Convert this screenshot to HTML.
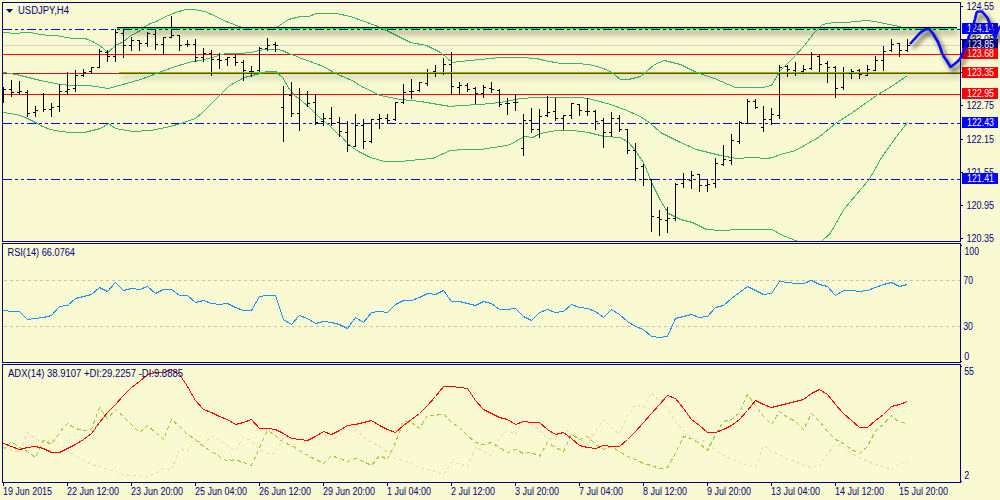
<!DOCTYPE html>
<html><head><meta charset="utf-8"><title>USDJPY,H4</title>
<style>html,body{margin:0;padding:0;background:#FAFAD2;}body{width:1000px;height:500px;overflow:hidden;}svg{display:block;}text{font-family:'Liberation Sans', sans-serif;}</style>
</head><body>
<svg width="1000" height="500" viewBox="0 0 1000 500">
<defs><filter id="sh" filterUnits="userSpaceOnUse" x="0" y="0" width="1000" height="500"><feGaussianBlur in="SourceAlpha" stdDeviation="3"/><feOffset dx="2" dy="4" result="b"/><feComponentTransfer><feFuncA type="linear" slope="0.75"/></feComponentTransfer><feMerge><feMergeNode/><feMergeNode in="SourceGraphic"/></feMerge></filter><filter id="sh2" filterUnits="userSpaceOnUse" x="0" y="0" width="1000" height="500"><feGaussianBlur in="SourceAlpha" stdDeviation="2.5"/><feOffset dx="3" dy="4" result="b"/><feComponentTransfer><feFuncA type="linear" slope="0.75"/></feComponentTransfer><feMerge><feMergeNode/><feMergeNode in="SourceGraphic"/></feMerge></filter><clipPath id="cm"><rect x="3" y="3" width="957" height="238"/></clipPath><clipPath id="cr"><rect x="3" y="244" width="957" height="118"/></clipPath><clipPath id="ca"><rect x="3" y="365" width="957" height="117"/></clipPath></defs>
<rect x="0" y="0" width="1000" height="500" fill="#FAFAD2"/>
<g clip-path="url(#cm)" shape-rendering="crispEdges">
<rect x="3" y="45" width="957" height="1" fill="#D3D3D3"/>
<rect x="3" y="54" width="957" height="1" fill="#FF0000"/>
<rect x="3" y="73" width="957" height="1" fill="#FF0000"/>
<rect x="3" y="94" width="957" height="1" fill="#FF0000"/>
<path d="M3 29.5H12M15 29.5H18M21 29.5H24M27 29.5H36M39 29.5H42M45 29.5H48M51 29.5H60M63 29.5H66M69 29.5H72M75 29.5H84M87 29.5H90M93 29.5H96M99 29.5H108M111 29.5H114M117 29.5H120M123 29.5H132M135 29.5H138M141 29.5H144M147 29.5H156M159 29.5H162M165 29.5H168M171 29.5H180M183 29.5H186M189 29.5H192M195 29.5H204M207 29.5H210M213 29.5H216M219 29.5H228M231 29.5H234M237 29.5H240M243 29.5H252M255 29.5H258M261 29.5H264M267 29.5H276M279 29.5H282M285 29.5H288M291 29.5H300M303 29.5H306M309 29.5H312M315 29.5H324M327 29.5H330M333 29.5H336M339 29.5H348M351 29.5H354M357 29.5H360M363 29.5H372M375 29.5H378M381 29.5H384M387 29.5H396M399 29.5H402M405 29.5H408M411 29.5H420M423 29.5H426M429 29.5H432M435 29.5H444M447 29.5H450M453 29.5H456M459 29.5H468M471 29.5H474M477 29.5H480M483 29.5H492M495 29.5H498M501 29.5H504M507 29.5H516M519 29.5H522M525 29.5H528M531 29.5H540M543 29.5H546M549 29.5H552M555 29.5H564M567 29.5H570M573 29.5H576M579 29.5H588M591 29.5H594M597 29.5H600M603 29.5H612M615 29.5H618M621 29.5H624M627 29.5H636M639 29.5H642M645 29.5H648M651 29.5H660M663 29.5H666M669 29.5H672M675 29.5H684M687 29.5H690M693 29.5H696M699 29.5H708M711 29.5H714M717 29.5H720M723 29.5H732M735 29.5H738M741 29.5H744M747 29.5H756M759 29.5H762M765 29.5H768M771 29.5H780M783 29.5H786M789 29.5H792M795 29.5H804M807 29.5H810M813 29.5H816M819 29.5H828M831 29.5H834M837 29.5H840M843 29.5H852M855 29.5H858M861 29.5H864M867 29.5H876M879 29.5H882M885 29.5H888M891 29.5H900M903 29.5H906M909 29.5H912M915 29.5H924M927 29.5H930M933 29.5H936M939 29.5H948M951 29.5H954M957 29.5H960" stroke="#0000FF" stroke-width="1" fill="none"/>
<path d="M3 123.5H12M15 123.5H18M21 123.5H24M27 123.5H36M39 123.5H42M45 123.5H48M51 123.5H60M63 123.5H66M69 123.5H72M75 123.5H84M87 123.5H90M93 123.5H96M99 123.5H108M111 123.5H114M117 123.5H120M123 123.5H132M135 123.5H138M141 123.5H144M147 123.5H156M159 123.5H162M165 123.5H168M171 123.5H180M183 123.5H186M189 123.5H192M195 123.5H204M207 123.5H210M213 123.5H216M219 123.5H228M231 123.5H234M237 123.5H240M243 123.5H252M255 123.5H258M261 123.5H264M267 123.5H276M279 123.5H282M285 123.5H288M291 123.5H300M303 123.5H306M309 123.5H312M315 123.5H324M327 123.5H330M333 123.5H336M339 123.5H348M351 123.5H354M357 123.5H360M363 123.5H372M375 123.5H378M381 123.5H384M387 123.5H396M399 123.5H402M405 123.5H408M411 123.5H420M423 123.5H426M429 123.5H432M435 123.5H444M447 123.5H450M453 123.5H456M459 123.5H468M471 123.5H474M477 123.5H480M483 123.5H492M495 123.5H498M501 123.5H504M507 123.5H516M519 123.5H522M525 123.5H528M531 123.5H540M543 123.5H546M549 123.5H552M555 123.5H564M567 123.5H570M573 123.5H576M579 123.5H588M591 123.5H594M597 123.5H600M603 123.5H612M615 123.5H618M621 123.5H624M627 123.5H636M639 123.5H642M645 123.5H648M651 123.5H660M663 123.5H666M669 123.5H672M675 123.5H684M687 123.5H690M693 123.5H696M699 123.5H708M711 123.5H714M717 123.5H720M723 123.5H732M735 123.5H738M741 123.5H744M747 123.5H756M759 123.5H762M765 123.5H768M771 123.5H780M783 123.5H786M789 123.5H792M795 123.5H804M807 123.5H810M813 123.5H816M819 123.5H828M831 123.5H834M837 123.5H840M843 123.5H852M855 123.5H858M861 123.5H864M867 123.5H876M879 123.5H882M885 123.5H888M891 123.5H900M903 123.5H906M909 123.5H912M915 123.5H924M927 123.5H930M933 123.5H936M939 123.5H948M951 123.5H954M957 123.5H960" stroke="#0000FF" stroke-width="1" fill="none"/>
<path d="M3 179.5H12M15 179.5H18M21 179.5H24M27 179.5H36M39 179.5H42M45 179.5H48M51 179.5H60M63 179.5H66M69 179.5H72M75 179.5H84M87 179.5H90M93 179.5H96M99 179.5H108M111 179.5H114M117 179.5H120M123 179.5H132M135 179.5H138M141 179.5H144M147 179.5H156M159 179.5H162M165 179.5H168M171 179.5H180M183 179.5H186M189 179.5H192M195 179.5H204M207 179.5H210M213 179.5H216M219 179.5H228M231 179.5H234M237 179.5H240M243 179.5H252M255 179.5H258M261 179.5H264M267 179.5H276M279 179.5H282M285 179.5H288M291 179.5H300M303 179.5H306M309 179.5H312M315 179.5H324M327 179.5H330M333 179.5H336M339 179.5H348M351 179.5H354M357 179.5H360M363 179.5H372M375 179.5H378M381 179.5H384M387 179.5H396M399 179.5H402M405 179.5H408M411 179.5H420M423 179.5H426M429 179.5H432M435 179.5H444M447 179.5H450M453 179.5H456M459 179.5H468M471 179.5H474M477 179.5H480M483 179.5H492M495 179.5H498M501 179.5H504M507 179.5H516M519 179.5H522M525 179.5H528M531 179.5H540M543 179.5H546M549 179.5H552M555 179.5H564M567 179.5H570M573 179.5H576M579 179.5H588M591 179.5H594M597 179.5H600M603 179.5H612M615 179.5H618M621 179.5H624M627 179.5H636M639 179.5H642M645 179.5H648M651 179.5H660M663 179.5H666M669 179.5H672M675 179.5H684M687 179.5H690M693 179.5H696M699 179.5H708M711 179.5H714M717 179.5H720M723 179.5H732M735 179.5H738M741 179.5H744M747 179.5H756M759 179.5H762M765 179.5H768M771 179.5H780M783 179.5H786M789 179.5H792M795 179.5H804M807 179.5H810M813 179.5H816M819 179.5H828M831 179.5H834M837 179.5H840M843 179.5H852M855 179.5H858M861 179.5H864M867 179.5H876M879 179.5H882M885 179.5H888M891 179.5H900M903 179.5H906M909 179.5H912M915 179.5H924M927 179.5H930M933 179.5H936M939 179.5H948M951 179.5H954M957 179.5H960" stroke="#0000FF" stroke-width="1" fill="none"/>
<polyline points="3.5,32.5 16.5,33.5 24.1,32.5 31.3,32.5 39.7,34.5 50.5,35.5 56.5,35.5 66.1,37.5 74.5,38.5 85.3,38.5 92.5,41.5 99.7,45.5 104.5,49.5 108.1,52.5 115.3,45.5 123.7,41.5 130.9,35.5 140.5,30.5 145.3,26.5 150.5,23.5 156.5,21.5 166.1,16.5 175.7,12.5 185.3,9.5 194.9,9.5 204.5,11.5 214.1,15.5 223.7,20.5 236.5,25.5 242.5,27.5 276.5,27.5 288.5,19.5 300.5,16.5 308.5,16.5 316.5,13.5 336.5,13.5 350.5,16.5 364.5,21.5 380.5,27.5 394.5,34.5 410.5,42.5 426.5,45.5 440.5,52.5 452.5,62.5 460.5,61.5 480.5,59.5 500.5,57.5 520.5,57.5 536.5,58.5 544.5,60.5 560.5,63.5 576.5,63.5 589.3,64.5 600.5,67.5 608.5,70.5 613.3,73.5 620.5,79.5 628.5,79.5 640.5,76.5 646.5,71.5 654.5,64.5 664.5,60.5 672.5,62.5 680.5,64.5 696.5,72.5 714.5,78.5 735.5,87.5 750.5,87.5 762.5,87.5 771.5,85.5 780.5,70.5 792.5,58.5 804.5,45.5 813.5,33.5 822.5,24.5 834.5,22.5 846.5,22.5 855.5,21.5 867.5,20.5 879.5,22.5 894.5,25.5 907.5,28.5" fill="none" stroke="#3CB371" stroke-width="1" />
<polyline points="3.5,72.5 16.5,74.5 40.5,80.5 60.5,84.5 70.5,85.5 88.5,85.5 108.5,88.5 140.5,79.5 156.5,73.5 172.5,67.5 188.5,62.5 204.5,59.5 215.5,56.5 225.3,53.5 233.3,53.5 240.5,53.5 250.5,52.5 264.5,49.5 276.5,49.5 282.5,50.5 288.5,53.5 294.5,55.5 301.5,58.5 310.1,61.5 318.5,64.5 326.9,68.5 334.1,72.5 342.5,76.5 352.1,80.5 361.5,86.5 370.1,90.5 380.5,95.5 400.5,99.5 420.5,101.5 450.5,106.5 460.5,105.5 480.5,104.5 500.5,102.5 520.5,98.5 536.5,97.5 580.5,97.5 592.5,99.5 610.5,104.5 624.5,109.5 640.5,116.5 650.5,123.5 660.5,132.5 680.5,142.5 696.5,149.5 720.5,155.5 736.5,158.5 752.5,157.5 766.5,158.5 772.5,157.5 780.5,154.5 795.5,150.5 818.5,137.5 835.5,123.5 852.5,112.5 876.5,95.5 894.5,84.5 907.5,75.5" fill="none" stroke="#3CB371" stroke-width="1" />
<polyline points="3.5,112.5 16.5,114.5 25.5,117.5 35.5,122.5 42.5,126.5 50.5,129.5 60.5,131.5 70.5,132.5 84.5,132.5 100.5,128.5 108.5,123.5 115.5,128.5 132.5,131.5 150.5,130.5 170.5,126.5 180.5,123.5 195.5,118.5 201.3,113.5 220.5,94.5 228.5,86.5 234.9,82.5 244.5,77.5 252.5,75.5 260.5,73.5 266.9,71.5 276.5,71.5 278.9,74.5 282.5,77.5 286.1,83.5 289.7,89.5 294.5,95.5 301.5,100.5 310.5,108.5 318.5,116.5 324.5,121.5 330.5,126.5 336.5,132.5 342.5,137.5 346.5,142.5 352.5,147.5 358.5,151.5 364.5,154.5 370.5,157.5 384.5,161.5 400.5,161.5 420.5,159.5 432.5,158.5 450.5,150.5 464.5,149.5 480.5,149.5 500.5,146.5 510.5,144.5 524.5,136.5 532.5,137.5 540.5,133.5 556.5,130.5 572.5,130.5 588.5,132.5 604.5,136.5 620.5,137.5 628.5,142.5 635.5,150.5 644.5,164.5 652.5,184.5 660.5,200.5 668.5,213.5 680.5,219.5 692.5,222.5 706.5,229.5 720.5,230.5 740.5,229.5 772.5,229.5 780.5,234.5 795.5,240.5 808.5,246.5 821.5,241.5 830.1,233.5 844.5,208.5 869.2,179.5 882.2,156.5 896.5,136.5 907.5,122.5" fill="none" stroke="#3CB371" stroke-width="1" />
<rect x="3" y="87" width="1" height="16"/>
<rect x="1" y="95" width="2" height="1"/>
<rect x="4" y="89" width="2" height="1"/>
<rect x="11" y="80" width="1" height="17"/>
<rect x="9" y="89" width="2" height="1"/>
<rect x="12" y="92" width="2" height="1"/>
<rect x="19" y="81" width="1" height="14"/>
<rect x="17" y="92" width="2" height="1"/>
<rect x="20" y="91" width="2" height="1"/>
<rect x="27" y="90" width="1" height="27"/>
<rect x="25" y="92" width="2" height="1"/>
<rect x="28" y="113" width="2" height="1"/>
<rect x="35" y="106" width="1" height="11"/>
<rect x="33" y="112" width="2" height="1"/>
<rect x="36" y="110" width="2" height="1"/>
<rect x="43" y="93" width="1" height="19"/>
<rect x="41" y="94" width="2" height="1"/>
<rect x="44" y="109" width="2" height="1"/>
<rect x="51" y="103" width="1" height="14"/>
<rect x="49" y="109" width="2" height="1"/>
<rect x="52" y="107" width="2" height="1"/>
<rect x="59" y="84" width="1" height="28"/>
<rect x="57" y="106" width="2" height="1"/>
<rect x="60" y="91" width="2" height="1"/>
<rect x="67" y="72" width="1" height="23"/>
<rect x="65" y="91" width="2" height="1"/>
<rect x="68" y="89" width="2" height="1"/>
<rect x="75" y="70" width="1" height="22"/>
<rect x="73" y="88" width="2" height="1"/>
<rect x="76" y="75" width="2" height="1"/>
<rect x="83" y="69" width="1" height="8"/>
<rect x="81" y="75" width="2" height="1"/>
<rect x="84" y="72" width="2" height="1"/>
<rect x="91" y="67" width="1" height="7"/>
<rect x="89" y="71" width="2" height="1"/>
<rect x="92" y="67" width="2" height="1"/>
<rect x="99" y="49" width="1" height="19"/>
<rect x="97" y="67" width="2" height="1"/>
<rect x="100" y="51" width="2" height="1"/>
<rect x="107" y="50" width="1" height="12"/>
<rect x="105" y="52" width="2" height="1"/>
<rect x="108" y="56" width="2" height="1"/>
<rect x="115" y="29" width="1" height="33"/>
<rect x="113" y="56" width="2" height="1"/>
<rect x="116" y="32" width="2" height="1"/>
<rect x="123" y="27" width="1" height="31"/>
<rect x="121" y="33" width="2" height="1"/>
<rect x="124" y="45" width="2" height="1"/>
<rect x="131" y="37" width="1" height="14"/>
<rect x="129" y="45" width="2" height="1"/>
<rect x="132" y="40" width="2" height="1"/>
<rect x="139" y="40" width="1" height="11"/>
<rect x="137" y="40" width="2" height="1"/>
<rect x="140" y="43" width="2" height="1"/>
<rect x="147" y="32" width="1" height="15"/>
<rect x="145" y="43" width="2" height="1"/>
<rect x="148" y="33" width="2" height="1"/>
<rect x="155" y="30" width="1" height="20"/>
<rect x="153" y="34" width="2" height="1"/>
<rect x="156" y="44" width="2" height="1"/>
<rect x="163" y="37" width="1" height="18"/>
<rect x="161" y="44" width="2" height="1"/>
<rect x="164" y="37" width="2" height="1"/>
<rect x="171" y="16" width="1" height="22"/>
<rect x="169" y="37" width="2" height="1"/>
<rect x="172" y="35" width="2" height="1"/>
<rect x="179" y="35" width="1" height="16"/>
<rect x="177" y="35" width="2" height="1"/>
<rect x="180" y="45" width="2" height="1"/>
<rect x="187" y="40" width="1" height="7"/>
<rect x="185" y="44" width="2" height="1"/>
<rect x="188" y="44" width="2" height="1"/>
<rect x="195" y="39" width="1" height="23"/>
<rect x="193" y="44" width="2" height="1"/>
<rect x="196" y="57" width="2" height="1"/>
<rect x="203" y="48" width="1" height="14"/>
<rect x="201" y="57" width="2" height="1"/>
<rect x="204" y="53" width="2" height="1"/>
<rect x="211" y="50" width="1" height="26"/>
<rect x="209" y="53" width="2" height="1"/>
<rect x="212" y="59" width="2" height="1"/>
<rect x="219" y="53" width="1" height="16"/>
<rect x="217" y="59" width="2" height="1"/>
<rect x="220" y="60" width="2" height="1"/>
<rect x="227" y="57" width="1" height="9"/>
<rect x="225" y="59" width="2" height="1"/>
<rect x="228" y="57" width="2" height="1"/>
<rect x="235" y="55" width="1" height="11"/>
<rect x="233" y="57" width="2" height="1"/>
<rect x="236" y="62" width="2" height="1"/>
<rect x="243" y="60" width="1" height="21"/>
<rect x="241" y="62" width="2" height="1"/>
<rect x="244" y="70" width="2" height="1"/>
<rect x="251" y="66" width="1" height="11"/>
<rect x="249" y="71" width="2" height="1"/>
<rect x="252" y="71" width="2" height="1"/>
<rect x="259" y="47" width="1" height="26"/>
<rect x="257" y="70" width="2" height="1"/>
<rect x="260" y="48" width="2" height="1"/>
<rect x="267" y="38" width="1" height="13"/>
<rect x="265" y="48" width="2" height="1"/>
<rect x="268" y="45" width="2" height="1"/>
<rect x="275" y="42" width="1" height="10"/>
<rect x="273" y="44" width="2" height="1"/>
<rect x="276" y="45" width="2" height="1"/>
<rect x="283" y="86" width="1" height="56"/>
<rect x="281" y="107" width="2" height="1"/>
<rect x="284" y="94" width="2" height="1"/>
<rect x="291" y="82" width="1" height="35"/>
<rect x="289" y="95" width="2" height="1"/>
<rect x="292" y="113" width="2" height="1"/>
<rect x="299" y="88" width="1" height="43"/>
<rect x="297" y="113" width="2" height="1"/>
<rect x="300" y="94" width="2" height="1"/>
<rect x="307" y="91" width="1" height="16"/>
<rect x="305" y="94" width="2" height="1"/>
<rect x="308" y="103" width="2" height="1"/>
<rect x="315" y="94" width="1" height="31"/>
<rect x="313" y="102" width="2" height="1"/>
<rect x="316" y="122" width="2" height="1"/>
<rect x="323" y="113" width="1" height="13"/>
<rect x="321" y="121" width="2" height="1"/>
<rect x="324" y="118" width="2" height="1"/>
<rect x="331" y="107" width="1" height="19"/>
<rect x="329" y="118" width="2" height="1"/>
<rect x="332" y="123" width="2" height="1"/>
<rect x="339" y="117" width="1" height="20"/>
<rect x="337" y="122" width="2" height="1"/>
<rect x="340" y="131" width="2" height="1"/>
<rect x="347" y="121" width="1" height="31"/>
<rect x="345" y="132" width="2" height="1"/>
<rect x="348" y="145" width="2" height="1"/>
<rect x="355" y="114" width="1" height="33"/>
<rect x="353" y="146" width="2" height="1"/>
<rect x="356" y="125" width="2" height="1"/>
<rect x="363" y="119" width="1" height="30"/>
<rect x="361" y="125" width="2" height="1"/>
<rect x="364" y="141" width="2" height="1"/>
<rect x="371" y="119" width="1" height="24"/>
<rect x="369" y="141" width="2" height="1"/>
<rect x="372" y="119" width="2" height="1"/>
<rect x="379" y="114" width="1" height="15"/>
<rect x="377" y="119" width="2" height="1"/>
<rect x="380" y="118" width="2" height="1"/>
<rect x="387" y="114" width="1" height="9"/>
<rect x="385" y="118" width="2" height="1"/>
<rect x="388" y="120" width="2" height="1"/>
<rect x="395" y="102" width="1" height="19"/>
<rect x="393" y="119" width="2" height="1"/>
<rect x="396" y="102" width="2" height="1"/>
<rect x="403" y="84" width="1" height="20"/>
<rect x="401" y="102" width="2" height="1"/>
<rect x="404" y="92" width="2" height="1"/>
<rect x="411" y="79" width="1" height="20"/>
<rect x="409" y="91" width="2" height="1"/>
<rect x="412" y="91" width="2" height="1"/>
<rect x="419" y="82" width="1" height="10"/>
<rect x="417" y="90" width="2" height="1"/>
<rect x="420" y="82" width="2" height="1"/>
<rect x="427" y="69" width="1" height="17"/>
<rect x="425" y="83" width="2" height="1"/>
<rect x="428" y="72" width="2" height="1"/>
<rect x="435" y="65" width="1" height="12"/>
<rect x="433" y="71" width="2" height="1"/>
<rect x="436" y="72" width="2" height="1"/>
<rect x="443" y="58" width="1" height="17"/>
<rect x="441" y="72" width="2" height="1"/>
<rect x="444" y="64" width="2" height="1"/>
<rect x="451" y="52" width="1" height="43"/>
<rect x="449" y="64" width="2" height="1"/>
<rect x="452" y="86" width="2" height="1"/>
<rect x="459" y="82" width="1" height="13"/>
<rect x="457" y="87" width="2" height="1"/>
<rect x="460" y="85" width="2" height="1"/>
<rect x="467" y="83" width="1" height="9"/>
<rect x="465" y="85" width="2" height="1"/>
<rect x="468" y="89" width="2" height="1"/>
<rect x="475" y="87" width="1" height="17"/>
<rect x="473" y="88" width="2" height="1"/>
<rect x="476" y="93" width="2" height="1"/>
<rect x="483" y="85" width="1" height="13"/>
<rect x="481" y="93" width="2" height="1"/>
<rect x="484" y="87" width="2" height="1"/>
<rect x="491" y="82" width="1" height="11"/>
<rect x="489" y="88" width="2" height="1"/>
<rect x="492" y="89" width="2" height="1"/>
<rect x="499" y="89" width="1" height="18"/>
<rect x="497" y="90" width="2" height="1"/>
<rect x="500" y="104" width="2" height="1"/>
<rect x="507" y="98" width="1" height="17"/>
<rect x="505" y="103" width="2" height="1"/>
<rect x="508" y="103" width="2" height="1"/>
<rect x="515" y="94" width="1" height="17"/>
<rect x="513" y="102" width="2" height="1"/>
<rect x="516" y="102" width="2" height="1"/>
<rect x="523" y="114" width="1" height="42"/>
<rect x="521" y="148" width="2" height="1"/>
<rect x="524" y="120" width="2" height="1"/>
<rect x="531" y="108" width="1" height="25"/>
<rect x="529" y="120" width="2" height="1"/>
<rect x="532" y="129" width="2" height="1"/>
<rect x="539" y="109" width="1" height="29"/>
<rect x="537" y="129" width="2" height="1"/>
<rect x="540" y="116" width="2" height="1"/>
<rect x="547" y="96" width="1" height="21"/>
<rect x="545" y="115" width="2" height="1"/>
<rect x="548" y="112" width="2" height="1"/>
<rect x="555" y="98" width="1" height="23"/>
<rect x="553" y="111" width="2" height="1"/>
<rect x="556" y="118" width="2" height="1"/>
<rect x="563" y="115" width="1" height="15"/>
<rect x="561" y="118" width="2" height="1"/>
<rect x="564" y="115" width="2" height="1"/>
<rect x="571" y="103" width="1" height="16"/>
<rect x="569" y="115" width="2" height="1"/>
<rect x="572" y="103" width="2" height="1"/>
<rect x="579" y="104" width="1" height="12"/>
<rect x="577" y="104" width="2" height="1"/>
<rect x="580" y="110" width="2" height="1"/>
<rect x="587" y="98" width="1" height="18"/>
<rect x="585" y="111" width="2" height="1"/>
<rect x="588" y="111" width="2" height="1"/>
<rect x="595" y="110" width="1" height="20"/>
<rect x="593" y="111" width="2" height="1"/>
<rect x="596" y="121" width="2" height="1"/>
<rect x="603" y="118" width="1" height="30"/>
<rect x="601" y="120" width="2" height="1"/>
<rect x="604" y="132" width="2" height="1"/>
<rect x="611" y="112" width="1" height="25"/>
<rect x="609" y="132" width="2" height="1"/>
<rect x="612" y="118" width="2" height="1"/>
<rect x="619" y="115" width="1" height="17"/>
<rect x="617" y="118" width="2" height="1"/>
<rect x="620" y="129" width="2" height="1"/>
<rect x="627" y="129" width="1" height="25"/>
<rect x="625" y="129" width="2" height="1"/>
<rect x="628" y="150" width="2" height="1"/>
<rect x="635" y="143" width="1" height="38"/>
<rect x="633" y="150" width="2" height="1"/>
<rect x="636" y="168" width="2" height="1"/>
<rect x="643" y="164" width="1" height="22"/>
<rect x="641" y="166" width="2" height="1"/>
<rect x="644" y="179" width="2" height="1"/>
<rect x="651" y="179" width="1" height="53"/>
<rect x="649" y="179" width="2" height="1"/>
<rect x="652" y="216" width="2" height="1"/>
<rect x="659" y="210" width="1" height="26"/>
<rect x="657" y="217" width="2" height="1"/>
<rect x="660" y="219" width="2" height="1"/>
<rect x="667" y="207" width="1" height="26"/>
<rect x="665" y="220" width="2" height="1"/>
<rect x="668" y="218" width="2" height="1"/>
<rect x="675" y="183" width="1" height="38"/>
<rect x="673" y="218" width="2" height="1"/>
<rect x="676" y="184" width="2" height="1"/>
<rect x="683" y="173" width="1" height="15"/>
<rect x="681" y="183" width="2" height="1"/>
<rect x="684" y="179" width="2" height="1"/>
<rect x="691" y="171" width="1" height="18"/>
<rect x="689" y="180" width="2" height="1"/>
<rect x="692" y="175" width="2" height="1"/>
<rect x="699" y="174" width="1" height="18"/>
<rect x="697" y="174" width="2" height="1"/>
<rect x="700" y="185" width="2" height="1"/>
<rect x="707" y="179" width="1" height="13"/>
<rect x="705" y="185" width="2" height="1"/>
<rect x="708" y="184" width="2" height="1"/>
<rect x="715" y="158" width="1" height="30"/>
<rect x="713" y="183" width="2" height="1"/>
<rect x="716" y="163" width="2" height="1"/>
<rect x="723" y="145" width="1" height="21"/>
<rect x="721" y="164" width="2" height="1"/>
<rect x="724" y="159" width="2" height="1"/>
<rect x="731" y="134" width="1" height="31"/>
<rect x="729" y="160" width="2" height="1"/>
<rect x="732" y="140" width="2" height="1"/>
<rect x="739" y="121" width="1" height="23"/>
<rect x="737" y="141" width="2" height="1"/>
<rect x="740" y="122" width="2" height="1"/>
<rect x="747" y="99" width="1" height="25"/>
<rect x="745" y="123" width="2" height="1"/>
<rect x="748" y="101" width="2" height="1"/>
<rect x="755" y="99" width="1" height="10"/>
<rect x="753" y="101" width="2" height="1"/>
<rect x="756" y="107" width="2" height="1"/>
<rect x="763" y="106" width="1" height="26"/>
<rect x="761" y="127" width="2" height="1"/>
<rect x="764" y="119" width="2" height="1"/>
<rect x="771" y="108" width="1" height="17"/>
<rect x="769" y="119" width="2" height="1"/>
<rect x="772" y="114" width="2" height="1"/>
<rect x="779" y="65" width="1" height="54"/>
<rect x="777" y="115" width="2" height="1"/>
<rect x="780" y="67" width="2" height="1"/>
<rect x="787" y="65" width="1" height="12"/>
<rect x="785" y="66" width="2" height="1"/>
<rect x="788" y="69" width="2" height="1"/>
<rect x="795" y="62" width="1" height="14"/>
<rect x="793" y="70" width="2" height="1"/>
<rect x="796" y="72" width="2" height="1"/>
<rect x="803" y="65" width="1" height="9"/>
<rect x="801" y="71" width="2" height="1"/>
<rect x="804" y="69" width="2" height="1"/>
<rect x="811" y="52" width="1" height="18"/>
<rect x="809" y="68" width="2" height="1"/>
<rect x="812" y="54" width="2" height="1"/>
<rect x="819" y="55" width="1" height="17"/>
<rect x="817" y="56" width="2" height="1"/>
<rect x="820" y="64" width="2" height="1"/>
<rect x="827" y="61" width="1" height="22"/>
<rect x="825" y="63" width="2" height="1"/>
<rect x="828" y="67" width="2" height="1"/>
<rect x="835" y="66" width="1" height="32"/>
<rect x="833" y="67" width="2" height="1"/>
<rect x="836" y="88" width="2" height="1"/>
<rect x="843" y="67" width="1" height="23"/>
<rect x="841" y="87" width="2" height="1"/>
<rect x="844" y="72" width="2" height="1"/>
<rect x="851" y="69" width="1" height="10"/>
<rect x="849" y="73" width="2" height="1"/>
<rect x="852" y="71" width="2" height="1"/>
<rect x="859" y="69" width="1" height="10"/>
<rect x="857" y="70" width="2" height="1"/>
<rect x="860" y="74" width="2" height="1"/>
<rect x="867" y="65" width="1" height="11"/>
<rect x="865" y="75" width="2" height="1"/>
<rect x="868" y="69" width="2" height="1"/>
<rect x="875" y="56" width="1" height="15"/>
<rect x="873" y="70" width="2" height="1"/>
<rect x="876" y="60" width="2" height="1"/>
<rect x="883" y="46" width="1" height="25"/>
<rect x="881" y="60" width="2" height="1"/>
<rect x="884" y="51" width="2" height="1"/>
<rect x="891" y="39" width="1" height="13"/>
<rect x="889" y="50" width="2" height="1"/>
<rect x="892" y="44" width="2" height="1"/>
<rect x="899" y="43" width="1" height="14"/>
<rect x="897" y="43" width="2" height="1"/>
<rect x="900" y="50" width="2" height="1"/>
<rect x="907" y="39" width="1" height="13"/>
<rect x="905" y="50" width="2" height="1"/>
<rect x="908" y="45" width="2" height="1"/>
</g>
<g filter="url(#sh)" shape-rendering="crispEdges">
<rect x="117" y="27" width="840" height="1" fill="#000000"/>
<rect x="117" y="28" width="840" height="1" fill="#00FF00"/>
</g>
<g filter="url(#sh)" shape-rendering="crispEdges">
<rect x="119" y="72" width="841" height="1" fill="#00FF00"/>
</g>
<g clip-path="url(#cr)" shape-rendering="crispEdges">
<path d="M4 280.5H7M10 280.5H13M16 280.5H19M22 280.5H25M28 280.5H31M34 280.5H37M40 280.5H43M46 280.5H49M52 280.5H55M58 280.5H61M64 280.5H67M70 280.5H73M76 280.5H79M82 280.5H85M88 280.5H91M94 280.5H97M100 280.5H103M106 280.5H109M112 280.5H115M118 280.5H121M124 280.5H127M130 280.5H133M136 280.5H139M142 280.5H145M148 280.5H151M154 280.5H157M160 280.5H163M166 280.5H169M172 280.5H175M178 280.5H181M184 280.5H187M190 280.5H193M196 280.5H199M202 280.5H205M208 280.5H211M214 280.5H217M220 280.5H223M226 280.5H229M232 280.5H235M238 280.5H241M244 280.5H247M250 280.5H253M256 280.5H259M262 280.5H265M268 280.5H271M274 280.5H277M280 280.5H283M286 280.5H289M292 280.5H295M298 280.5H301M304 280.5H307M310 280.5H313M316 280.5H319M322 280.5H325M328 280.5H331M334 280.5H337M340 280.5H343M346 280.5H349M352 280.5H355M358 280.5H361M364 280.5H367M370 280.5H373M376 280.5H379M382 280.5H385M388 280.5H391M394 280.5H397M400 280.5H403M406 280.5H409M412 280.5H415M418 280.5H421M424 280.5H427M430 280.5H433M436 280.5H439M442 280.5H445M448 280.5H451M454 280.5H457M460 280.5H463M466 280.5H469M472 280.5H475M478 280.5H481M484 280.5H487M490 280.5H493M496 280.5H499M502 280.5H505M508 280.5H511M514 280.5H517M520 280.5H523M526 280.5H529M532 280.5H535M538 280.5H541M544 280.5H547M550 280.5H553M556 280.5H559M562 280.5H565M568 280.5H571M574 280.5H577M580 280.5H583M586 280.5H589M592 280.5H595M598 280.5H601M604 280.5H607M610 280.5H613M616 280.5H619M622 280.5H625M628 280.5H631M634 280.5H637M640 280.5H643M646 280.5H649M652 280.5H655M658 280.5H661M664 280.5H667M670 280.5H673M676 280.5H679M682 280.5H685M688 280.5H691M694 280.5H697M700 280.5H703M706 280.5H709M712 280.5H715M718 280.5H721M724 280.5H727M730 280.5H733M736 280.5H739M742 280.5H745M748 280.5H751M754 280.5H757M760 280.5H763M766 280.5H769M772 280.5H775M778 280.5H781M784 280.5H787M790 280.5H793M796 280.5H799M802 280.5H805M808 280.5H811M814 280.5H817M820 280.5H823M826 280.5H829M832 280.5H835M838 280.5H841M844 280.5H847M850 280.5H853M856 280.5H859M862 280.5H865M868 280.5H871M874 280.5H877M880 280.5H883M886 280.5H889M892 280.5H895M898 280.5H901M904 280.5H907M910 280.5H913M916 280.5H919M922 280.5H925M928 280.5H931M934 280.5H937M940 280.5H943M946 280.5H949M952 280.5H955M958 280.5H960" stroke="#C0C0C0" stroke-width="1" fill="none"/>
<path d="M4 326.5H7M10 326.5H13M16 326.5H19M22 326.5H25M28 326.5H31M34 326.5H37M40 326.5H43M46 326.5H49M52 326.5H55M58 326.5H61M64 326.5H67M70 326.5H73M76 326.5H79M82 326.5H85M88 326.5H91M94 326.5H97M100 326.5H103M106 326.5H109M112 326.5H115M118 326.5H121M124 326.5H127M130 326.5H133M136 326.5H139M142 326.5H145M148 326.5H151M154 326.5H157M160 326.5H163M166 326.5H169M172 326.5H175M178 326.5H181M184 326.5H187M190 326.5H193M196 326.5H199M202 326.5H205M208 326.5H211M214 326.5H217M220 326.5H223M226 326.5H229M232 326.5H235M238 326.5H241M244 326.5H247M250 326.5H253M256 326.5H259M262 326.5H265M268 326.5H271M274 326.5H277M280 326.5H283M286 326.5H289M292 326.5H295M298 326.5H301M304 326.5H307M310 326.5H313M316 326.5H319M322 326.5H325M328 326.5H331M334 326.5H337M340 326.5H343M346 326.5H349M352 326.5H355M358 326.5H361M364 326.5H367M370 326.5H373M376 326.5H379M382 326.5H385M388 326.5H391M394 326.5H397M400 326.5H403M406 326.5H409M412 326.5H415M418 326.5H421M424 326.5H427M430 326.5H433M436 326.5H439M442 326.5H445M448 326.5H451M454 326.5H457M460 326.5H463M466 326.5H469M472 326.5H475M478 326.5H481M484 326.5H487M490 326.5H493M496 326.5H499M502 326.5H505M508 326.5H511M514 326.5H517M520 326.5H523M526 326.5H529M532 326.5H535M538 326.5H541M544 326.5H547M550 326.5H553M556 326.5H559M562 326.5H565M568 326.5H571M574 326.5H577M580 326.5H583M586 326.5H589M592 326.5H595M598 326.5H601M604 326.5H607M610 326.5H613M616 326.5H619M622 326.5H625M628 326.5H631M634 326.5H637M640 326.5H643M646 326.5H649M652 326.5H655M658 326.5H661M664 326.5H667M670 326.5H673M676 326.5H679M682 326.5H685M688 326.5H691M694 326.5H697M700 326.5H703M706 326.5H709M712 326.5H715M718 326.5H721M724 326.5H727M730 326.5H733M736 326.5H739M742 326.5H745M748 326.5H751M754 326.5H757M760 326.5H763M766 326.5H769M772 326.5H775M778 326.5H781M784 326.5H787M790 326.5H793M796 326.5H799M802 326.5H805M808 326.5H811M814 326.5H817M820 326.5H823M826 326.5H829M832 326.5H835M838 326.5H841M844 326.5H847M850 326.5H853M856 326.5H859M862 326.5H865M868 326.5H871M874 326.5H877M880 326.5H883M886 326.5H889M892 326.5H895M898 326.5H901M904 326.5H907M910 326.5H913M916 326.5H919M922 326.5H925M928 326.5H931M934 326.5H937M940 326.5H943M946 326.5H949M952 326.5H955M958 326.5H960" stroke="#C0C0C0" stroke-width="1" fill="none"/>
<polyline points="3.5,310.5 11.5,311.5 19.5,311.5 27.5,319.5 35.5,318.5 43.5,317.5 51.5,315.5 59.5,306.5 67.5,305.5 75.5,298.5 83.5,296.5 91.5,294.5 99.5,287.5 107.5,291.5 115.5,282.5 123.5,290.5 131.5,288.5 139.5,289.5 147.5,286.5 155.5,293.5 163.5,289.5 171.5,289.5 179.5,295.5 187.5,295.5 195.5,302.5 203.5,300.5 211.5,303.5 219.5,304.5 227.5,303.5 235.5,307.5 243.5,310.5 251.5,310.5 259.5,296.5 267.5,295.5 275.5,295.5 283.5,319.5 291.5,324.5 299.5,315.5 307.5,318.5 315.5,323.5 323.5,321.5 331.5,322.5 339.5,324.5 347.5,328.5 355.5,317.5 363.5,322.5 371.5,312.5 379.5,311.5 387.5,312.5 395.5,304.5 403.5,300.5 411.5,300.5 419.5,297.5 427.5,293.5 435.5,294.5 443.5,290.5 451.5,301.5 459.5,301.5 467.5,303.5 475.5,305.5 483.5,301.5 491.5,303.5 499.5,309.5 507.5,309.5 515.5,308.5 523.5,316.5 531.5,320.5 539.5,312.5 547.5,309.5 555.5,312.5 563.5,311.5 571.5,304.5 579.5,307.5 587.5,308.5 595.5,311.5 603.5,317.5 611.5,309.5 619.5,314.5 627.5,321.5 635.5,326.5 643.5,329.5 651.5,336.5 659.5,337.5 667.5,336.5 675.5,318.5 683.5,316.5 691.5,314.5 699.5,317.5 707.5,316.5 715.5,307.5 723.5,305.5 731.5,298.5 739.5,292.5 747.5,286.5 755.5,290.5 763.5,294.5 771.5,293.5 779.5,281.5 787.5,282.5 795.5,283.5 803.5,283.5 811.5,280.5 819.5,284.5 827.5,286.5 835.5,295.5 843.5,290.5 851.5,290.5 859.5,291.5 867.5,290.5 875.5,287.5 883.5,284.5 891.5,282.5 899.5,286.5 907.5,284.5" fill="none" stroke="#1E90FF" stroke-width="1" />
</g>
<g clip-path="url(#ca)" shape-rendering="crispEdges">
<polyline points="3.5,447.5 11.5,450.5 19.5,451.5 27.5,432.5 35.5,438.5 43.5,443.5 51.5,439.5 59.5,444.5 67.5,450.5 75.5,455.5 83.5,460.5 91.5,464.5 99.5,466.5 107.5,469.5 115.5,471.5 123.5,474.5 131.5,475.5 139.5,476.5 147.5,476.5 155.5,473.5 163.5,468.5 171.5,470.5 179.5,448.5 187.5,451.5 195.5,439.5 203.5,444.5 211.5,435.5 219.5,440.5 227.5,445.5 235.5,450.5 243.5,437.5 251.5,440.5 259.5,449.5 267.5,453.5 275.5,453.5 283.5,436.5 291.5,438.5 299.5,439.5 307.5,443.5 315.5,431.5 323.5,434.5 331.5,440.5 339.5,435.5 347.5,423.5 355.5,429.5 363.5,436.5 371.5,442.5 379.5,446.5 387.5,452.5 395.5,458.5 403.5,460.5 411.5,463.5 419.5,468.5 427.5,469.5 435.5,471.5 443.5,474.5 451.5,462.5 459.5,463.5 467.5,466.5 475.5,447.5 483.5,451.5 491.5,455.5 499.5,437.5 507.5,430.5 515.5,434.5 523.5,420.5 531.5,425.5 539.5,429.5 547.5,438.5 555.5,438.5 563.5,427.5 571.5,434.5 579.5,438.5 587.5,444.5 595.5,431.5 603.5,419.5 611.5,427.5 619.5,434.5 627.5,415.5 635.5,404.5 643.5,407.5 651.5,392.5 659.5,401.5 667.5,408.5 675.5,421.5 683.5,430.5 691.5,438.5 699.5,438.5 707.5,443.5 715.5,450.5 723.5,455.5 731.5,459.5 739.5,462.5 747.5,465.5 755.5,466.5 763.5,445.5 771.5,451.5 779.5,454.5 787.5,459.5 795.5,461.5 803.5,465.5 811.5,467.5 819.5,466.5 827.5,453.5 835.5,444.5 843.5,446.5 851.5,453.5 859.5,457.5 867.5,461.5 875.5,464.5 883.5,466.5 891.5,470.5 899.5,462.5 907.5,462.5" fill="none" stroke="#F5D2AE" stroke-width="1" stroke-dasharray="3 3"/>
<polyline points="3.5,449.5 11.5,441.5 19.5,447.5 27.5,451.5 35.5,457.5 43.5,440.5 51.5,444.5 59.5,432.5 67.5,423.5 75.5,428.5 83.5,430.5 91.5,429.5 99.5,407.5 107.5,418.5 115.5,409.5 123.5,416.5 131.5,424.5 139.5,432.5 147.5,425.5 155.5,432.5 163.5,439.5 171.5,419.5 179.5,426.5 187.5,434.5 195.5,439.5 203.5,446.5 211.5,451.5 219.5,456.5 227.5,461.5 235.5,459.5 243.5,462.5 251.5,465.5 259.5,447.5 267.5,430.5 275.5,435.5 283.5,442.5 291.5,445.5 299.5,450.5 307.5,455.5 315.5,459.5 323.5,463.5 331.5,455.5 339.5,458.5 347.5,461.5 355.5,458.5 363.5,461.5 371.5,465.5 379.5,455.5 387.5,459.5 395.5,442.5 403.5,421.5 411.5,422.5 419.5,428.5 427.5,415.5 435.5,415.5 443.5,413.5 451.5,422.5 459.5,427.5 467.5,435.5 475.5,442.5 483.5,444.5 491.5,442.5 499.5,447.5 507.5,452.5 515.5,449.5 523.5,453.5 531.5,452.5 539.5,456.5 547.5,442.5 555.5,447.5 563.5,451.5 571.5,434.5 579.5,439.5 587.5,436.5 595.5,444.5 603.5,449.5 611.5,446.5 619.5,451.5 627.5,456.5 635.5,459.5 643.5,463.5 651.5,465.5 659.5,468.5 667.5,467.5 675.5,453.5 683.5,436.5 691.5,438.5 699.5,443.5 707.5,450.5 715.5,434.5 723.5,421.5 731.5,419.5 739.5,412.5 747.5,394.5 755.5,405.5 763.5,416.5 771.5,424.5 779.5,411.5 787.5,417.5 795.5,421.5 803.5,429.5 811.5,413.5 819.5,421.5 827.5,431.5 835.5,439.5 843.5,443.5 851.5,449.5 859.5,453.5 867.5,446.5 875.5,430.5 883.5,424.5 891.5,415.5 899.5,422.5 907.5,423.5" fill="none" stroke="#9ACD32" stroke-width="1" stroke-dasharray="4 3"/>
<polyline points="3.5,443.5 11.5,446.5 19.5,449.5 27.5,447.5 35.5,446.5 43.5,448.5 51.5,452.5 59.5,452.5 67.5,448.5 75.5,444.5 83.5,439.5 91.5,433.5 99.5,422.5 107.5,412.5 115.5,404.5 123.5,395.5 131.5,387.5 139.5,381.5 147.5,374.5 155.5,372.5 163.5,372.5 171.5,369.5 179.5,374.5 187.5,386.5 195.5,400.5 203.5,409.5 211.5,412.5 219.5,416.5 227.5,419.5 235.5,424.5 243.5,422.5 251.5,419.5 259.5,428.5 267.5,428.5 275.5,429.5 283.5,433.5 291.5,438.5 299.5,439.5 307.5,440.5 315.5,436.5 323.5,431.5 331.5,434.5 339.5,430.5 347.5,425.5 355.5,424.5 363.5,422.5 371.5,420.5 379.5,425.5 387.5,429.5 395.5,432.5 403.5,425.5 411.5,419.5 419.5,413.5 427.5,405.5 435.5,396.5 443.5,386.5 451.5,386.5 459.5,387.5 467.5,388.5 475.5,400.5 483.5,409.5 491.5,413.5 499.5,417.5 507.5,419.5 515.5,424.5 523.5,421.5 531.5,422.5 539.5,422.5 547.5,429.5 555.5,434.5 563.5,432.5 571.5,438.5 579.5,445.5 587.5,447.5 595.5,448.5 603.5,445.5 611.5,446.5 619.5,446.5 627.5,439.5 635.5,431.5 643.5,422.5 651.5,413.5 659.5,404.5 667.5,395.5 675.5,398.5 683.5,408.5 691.5,419.5 699.5,425.5 707.5,432.5 715.5,432.5 723.5,429.5 731.5,425.5 739.5,419.5 747.5,410.5 755.5,400.5 763.5,404.5 771.5,407.5 779.5,405.5 787.5,403.5 795.5,401.5 803.5,399.5 811.5,393.5 819.5,389.5 827.5,394.5 835.5,404.5 843.5,413.5 851.5,420.5 859.5,427.5 867.5,427.5 875.5,420.5 883.5,414.5 891.5,406.5 899.5,404.5 907.5,401.5" fill="none" stroke="#FF0000" stroke-width="1" />
</g>
<g fill="#000080" shape-rendering="crispEdges">
<rect x="2" y="2" width="959" height="1"/>
<rect x="2" y="241" width="959" height="1"/>
<rect x="2" y="2" width="1" height="240"/>
<rect x="960" y="2" width="1" height="240"/>
<rect x="2" y="243" width="959" height="1"/>
<rect x="2" y="362" width="959" height="1"/>
<rect x="2" y="243" width="1" height="120"/>
<rect x="960" y="243" width="1" height="120"/>
<rect x="2" y="364" width="959" height="1"/>
<rect x="2" y="482" width="959" height="1"/>
<rect x="2" y="364" width="1" height="119"/>
<rect x="960" y="364" width="1" height="119"/>
<rect x="3" y="483" width="1" height="3"/>
<rect x="67" y="483" width="1" height="3"/>
<rect x="131" y="483" width="1" height="3"/>
<rect x="195" y="483" width="1" height="3"/>
<rect x="259" y="483" width="1" height="3"/>
<rect x="323" y="483" width="1" height="3"/>
<rect x="387" y="483" width="1" height="3"/>
<rect x="451" y="483" width="1" height="3"/>
<rect x="515" y="483" width="1" height="3"/>
<rect x="579" y="483" width="1" height="3"/>
<rect x="643" y="483" width="1" height="3"/>
<rect x="707" y="483" width="1" height="3"/>
<rect x="771" y="483" width="1" height="3"/>
<rect x="835" y="483" width="1" height="3"/>
<rect x="899" y="483" width="1" height="3"/>
<rect x="961" y="6" width="2" height="1"/>
<rect x="961" y="39" width="2" height="1"/>
<rect x="961" y="72" width="2" height="1"/>
<rect x="961" y="105" width="2" height="1"/>
<rect x="961" y="139" width="2" height="1"/>
<rect x="961" y="172" width="2" height="1"/>
<rect x="961" y="205" width="2" height="1"/>
<rect x="961" y="238" width="2" height="1"/>
<rect x="961" y="245" width="1" height="1"/>
<rect x="961" y="361" width="1" height="1"/>
<rect x="961" y="366" width="1" height="1"/>
<rect x="961" y="481" width="1" height="1"/>
</g>
<path d="M6 9H13L9.5 13Z" fill="#000080"/>
<text x="18" y="14.2" font-size="10" fill="#000080" textLength="51" lengthAdjust="spacingAndGlyphs">USDJPY,H4</text>
<text x="7.5" y="256" font-size="10" fill="#000080" textLength="67.5" lengthAdjust="spacingAndGlyphs">RSI(14) 66.0764</text>
<text x="8" y="377" font-size="10" fill="#000080" textLength="175" lengthAdjust="spacingAndGlyphs">ADX(14) 38.9107 +DI:29.2257 -DI:9.8885</text>
<text x="966.5" y="10" font-size="10" fill="#000080" textLength="27.5" lengthAdjust="spacingAndGlyphs">124.55</text>
<text x="966.5" y="43" font-size="10" fill="#000080" textLength="27.5" lengthAdjust="spacingAndGlyphs">123.95</text>
<text x="966.5" y="109" font-size="10" fill="#000080" textLength="27.5" lengthAdjust="spacingAndGlyphs">122.75</text>
<text x="966.5" y="143" font-size="10" fill="#000080" textLength="27.5" lengthAdjust="spacingAndGlyphs">122.15</text>
<text x="966.5" y="176" font-size="10" fill="#000080" textLength="27.5" lengthAdjust="spacingAndGlyphs">121.55</text>
<text x="966.5" y="209" font-size="10" fill="#000080" textLength="27.5" lengthAdjust="spacingAndGlyphs">120.95</text>
<text x="966.5" y="242" font-size="10" fill="#000080" textLength="27.5" lengthAdjust="spacingAndGlyphs">120.35</text>
<rect x="962" y="23" width="36" height="11" fill="#0000FF" shape-rendering="crispEdges"/>
<text x="967" y="32" font-size="10" fill="#FFFFFF" textLength="27" lengthAdjust="spacingAndGlyphs">124.14</text>
<rect x="962" y="39" width="36" height="11" fill="#000080" shape-rendering="crispEdges"/>
<text x="967" y="48" font-size="10" fill="#FFFFFF" textLength="27" lengthAdjust="spacingAndGlyphs">123.85</text>
<rect x="962" y="48" width="36" height="11" fill="#FF0000" shape-rendering="crispEdges"/>
<text x="967" y="57" font-size="10" fill="#FFFFFF" textLength="27" lengthAdjust="spacingAndGlyphs">123.68</text>
<rect x="962" y="67" width="36" height="11" fill="#FF0000" shape-rendering="crispEdges"/>
<text x="967" y="76" font-size="10" fill="#FFFFFF" textLength="27" lengthAdjust="spacingAndGlyphs">123.35</text>
<rect x="962" y="88" width="36" height="11" fill="#FF0000" shape-rendering="crispEdges"/>
<text x="967" y="97" font-size="10" fill="#FFFFFF" textLength="27" lengthAdjust="spacingAndGlyphs">122.95</text>
<rect x="962" y="117" width="36" height="11" fill="#0000FF" shape-rendering="crispEdges"/>
<text x="967" y="126" font-size="10" fill="#FFFFFF" textLength="27" lengthAdjust="spacingAndGlyphs">122.43</text>
<rect x="962" y="173" width="36" height="11" fill="#0000FF" shape-rendering="crispEdges"/>
<text x="967" y="182" font-size="10" fill="#FFFFFF" textLength="27" lengthAdjust="spacingAndGlyphs">121.41</text>
<text x="964.5" y="255" font-size="10" fill="#000080" textLength="14.5" lengthAdjust="spacingAndGlyphs">100</text>
<text x="963.5" y="284" font-size="10" fill="#000080" textLength="9.5" lengthAdjust="spacingAndGlyphs">70</text>
<text x="963.2" y="330" font-size="10" fill="#000080" textLength="9.8" lengthAdjust="spacingAndGlyphs">30</text>
<text x="964.2" y="360" font-size="10" fill="#000080" textLength="5" lengthAdjust="spacingAndGlyphs">0</text>
<text x="964.2" y="375" font-size="10" fill="#000080" textLength="9.8" lengthAdjust="spacingAndGlyphs">55</text>
<text x="964.2" y="479" font-size="10" fill="#000080" textLength="5" lengthAdjust="spacingAndGlyphs">2</text>
<text x="3" y="495" font-size="10" fill="#000080" textLength="49" lengthAdjust="spacingAndGlyphs">19 Jun 2015</text>
<text x="67" y="495" font-size="10" fill="#000080" textLength="52" lengthAdjust="spacingAndGlyphs">22 Jun 12:00</text>
<text x="131" y="495" font-size="10" fill="#000080" textLength="52" lengthAdjust="spacingAndGlyphs">23 Jun 20:00</text>
<text x="195" y="495" font-size="10" fill="#000080" textLength="52" lengthAdjust="spacingAndGlyphs">25 Jun 04:00</text>
<text x="259" y="495" font-size="10" fill="#000080" textLength="52" lengthAdjust="spacingAndGlyphs">26 Jun 12:00</text>
<text x="323" y="495" font-size="10" fill="#000080" textLength="52" lengthAdjust="spacingAndGlyphs">29 Jun 20:00</text>
<text x="387" y="495" font-size="10" fill="#000080" textLength="44" lengthAdjust="spacingAndGlyphs">1 Jul 04:00</text>
<text x="451" y="495" font-size="10" fill="#000080" textLength="44" lengthAdjust="spacingAndGlyphs">2 Jul 12:00</text>
<text x="515" y="495" font-size="10" fill="#000080" textLength="44" lengthAdjust="spacingAndGlyphs">3 Jul 20:00</text>
<text x="579" y="495" font-size="10" fill="#000080" textLength="44" lengthAdjust="spacingAndGlyphs">7 Jul 04:00</text>
<text x="643" y="495" font-size="10" fill="#000080" textLength="44" lengthAdjust="spacingAndGlyphs">8 Jul 12:00</text>
<text x="707" y="495" font-size="10" fill="#000080" textLength="44" lengthAdjust="spacingAndGlyphs">9 Jul 20:00</text>
<text x="771" y="495" font-size="10" fill="#000080" textLength="49" lengthAdjust="spacingAndGlyphs">13 Jul 04:00</text>
<text x="835" y="495" font-size="10" fill="#000080" textLength="49" lengthAdjust="spacingAndGlyphs">14 Jul 12:00</text>
<text x="899" y="495" font-size="10" fill="#000080" textLength="49" lengthAdjust="spacingAndGlyphs">15 Jul 20:00</text>
<polyline points="910.0,44.0 914.5,39.0 919.0,34.0 922.5,31.0 926.0,29.0 929.5,29.3 933.0,33.5 935.0,37.0 938.0,42.0 940.0,47.0 942.0,53.0 944.0,57.0 947.0,61.0 950.5,67.0 954.0,64.5 957.0,62.0 960.0,59.0 963.0,52.5 965.5,45.5 968.5,38.0 971.0,32.0 973.0,26.0 975.0,19.0 976.5,13.0 977.5,11.5 982.0,11.5 985.0,15.0 987.5,18.0 990.0,24.0 992.0,30.0 994.0,35.0 995.0,38.5 997.0,33.0 999.0,28.0 1001.0,26.0" fill="none" stroke="#0A0AF0" stroke-width="2.6" stroke-linejoin="round" filter="url(#sh2)"/>
</svg>
</body></html>
